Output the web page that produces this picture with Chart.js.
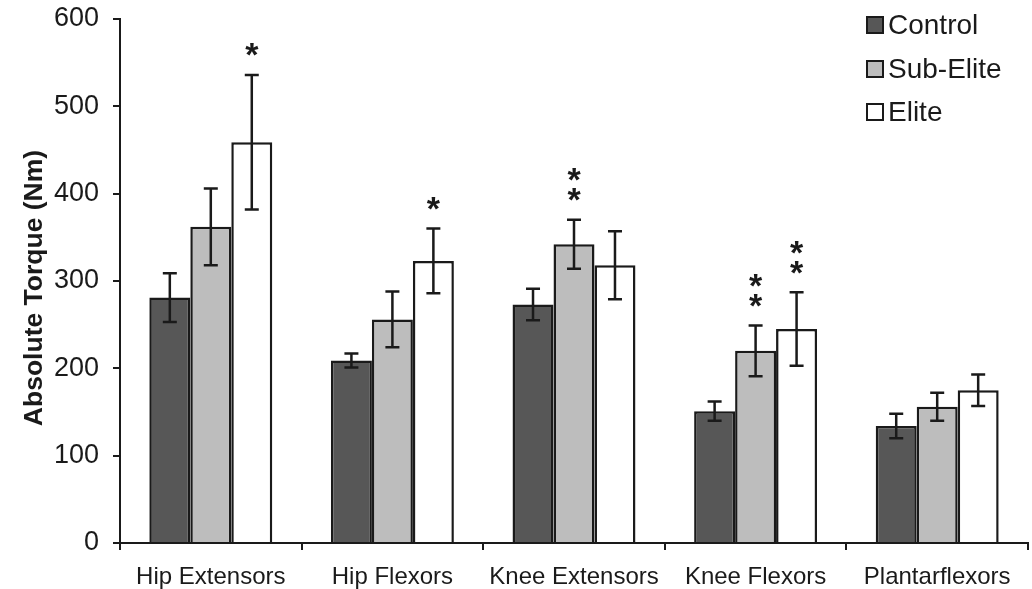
<!DOCTYPE html>
<html>
<head>
<meta charset="utf-8">
<title>Absolute Torque by Muscle Group</title>
<script src="https://cdn.jsdelivr.net/npm/chart.js@4.4.1/dist/chart.umd.min.js"></script>
<style>
  html, body { margin: 0; padding: 0; background: #ffffff; }
  #wrap { width: 1032px; height: 589px; }
</style>
</head>
<body>
<div id="wrap"><canvas id="chart" width="1032" height="589"></canvas></div>
<script>
// Muscle groups on the x axis
const categories = ['Hip Extensors', 'Hip Flexors', 'Knee Extensors', 'Knee Flexors', 'Plantarflexors'];

// Group means (Nm)
const controlMeans   = [281, 209, 273, 151, 134];
const subEliteMeans  = [362, 256, 342, 220, 156];
const eliteMeans     = [459, 323, 318, 245, 175];

// Standard deviations (Nm), drawn as symmetric error bars
const controlSD  = [28, 8, 18, 11, 14];
const subEliteSD = [44, 32, 28, 29, 16];
const eliteSD    = [77, 37, 39, 42, 18];

// Significance markers placed above each bar's error bar
const controlStars  = ['', '', '', '', ''];
const subEliteStars = ['', '', '**', '**', ''];
const eliteStars    = ['*', '*', '', '**', ''];

// Y axis ticks
const yTicks = [0, 100, 200, 300, 400, 500, 600];
const yTitle = 'Absolute Torque (Nm)';

const FONT = '"Liberation Sans", Arial, Helvetica, sans-serif';
const INK = '#1a1a1a';

const errorBarPlugin = {
  id: 'errorBars',
  afterDatasetsDraw(chart) {
    const ctx = chart.ctx;
    const y = chart.scales.y;
    ctx.save();
    chart.data.datasets.forEach((ds, di) => {
      const meta = chart.getDatasetMeta(di);
      meta.data.forEach((bar, i) => {
        const m = ds.data[i];
        const sd = ds.sd[i];
        const yTop = y.getPixelForValue(m + sd);
        const yBot = y.getPixelForValue(m - sd);
        const x = bar.x;
        const cap = 7;
        ctx.strokeStyle = INK;
        ctx.lineWidth = 2.5;
        ctx.beginPath();
        ctx.moveTo(x, yTop); ctx.lineTo(x, yBot);
        ctx.moveTo(x - cap, yTop); ctx.lineTo(x + cap, yTop);
        ctx.moveTo(x - cap, yBot); ctx.lineTo(x + cap, yBot);
        ctx.stroke();

        const stars = ds.stars[i];
        if (stars) {
          ctx.fillStyle = INK;
          ctx.font = 'bold 34px ' + FONT;
          ctx.textAlign = 'center';
          ctx.textBaseline = 'alphabetic';
          for (let k = 0; k < stars.length; k++) {
            const cy = yTop - 28 - k * 20;
            ctx.fillText('*', x, cy + 0.57 * 34);
          }
        }
      });
    });
    ctx.restore();
  }
};

// Rotated axis title, placed beside the y tick labels
const yTitlePlugin = {
  id: 'yTitle',
  afterDraw(chart) {
    const ctx = chart.ctx;
    ctx.save();
    ctx.translate(41.5, 288);
    ctx.rotate(-Math.PI / 2);
    ctx.fillStyle = INK;
    ctx.font = 'bold 26.5px ' + FONT;
    ctx.textAlign = 'center';
    ctx.textBaseline = 'alphabetic';
    ctx.fillText(yTitle, 0, 0);
    ctx.restore();
  }
};

const legendPlugin = {
  id: 'boxLegend',
  afterDraw(chart) {
    const ctx = chart.ctx;
    ctx.save();
    const x0 = 867, size = 16;
    const rows = [25, 69, 112];
    chart.data.datasets.forEach((ds, i) => {
      const cy = rows[i];
      ctx.fillStyle = ds.backgroundColor;
      ctx.fillRect(x0, cy - size / 2, size, size);
      ctx.strokeStyle = INK;
      ctx.lineWidth = 2;
      ctx.strokeRect(x0, cy - size / 2, size, size);
      ctx.fillStyle = INK;
      ctx.font = '28px ' + FONT;
      ctx.textAlign = 'left';
      ctx.textBaseline = 'middle';
      ctx.fillText(ds.label, x0 + 21, cy + 1);
    });
    ctx.restore();
  }
};

new Chart(document.getElementById('chart'), {
  type: 'bar',
  data: {
    labels: categories,
    datasets: [
      { label: 'Control',   data: controlMeans,  sd: controlSD,  stars: controlStars,
        backgroundColor: '#575757', borderColor: INK, borderWidth: 2.5 },
      { label: 'Sub-Elite', data: subEliteMeans, sd: subEliteSD, stars: subEliteStars,
        backgroundColor: '#bdbdbd', borderColor: INK, borderWidth: 2.5 },
      { label: 'Elite',     data: eliteMeans,    sd: eliteSD,    stars: eliteStars,
        backgroundColor: '#ffffff', borderColor: INK, borderWidth: 2.5 }
    ]
  },
  options: {
    responsive: false,
    animation: false,
    devicePixelRatio: 1,
    layout: { padding: { top: 19, right: 4, left: 0, bottom: 0 } },
    datasets: { bar: { categoryPercentage: 0.677, barPercentage: 1.0 } },
    plugins: {
      legend: { display: false },
      tooltip: { enabled: false }
    },
    scales: {
      x: {
        offset: true,
        grid: { offset: true, drawOnChartArea: false, drawTicks: true, tickLength: 7,
                color: INK, lineWidth: 2 },
        border: { display: true, color: INK, width: 2 },
        ticks: { color: INK, font: { family: FONT, size: 24 }, padding: 13, maxRotation: 0 },
        afterFit(scale) { scale.height = 46; }
      },
      y: {
        min: 0, max: 600,
        afterBuildTicks(scale) { scale.ticks = yTicks.map(v => ({ value: v })); },
        grid: { drawOnChartArea: false, drawTicks: true, tickLength: 7, color: INK, lineWidth: 2 },
        border: { display: true, color: INK, width: 2 },
        ticks: { color: INK, font: { family: FONT, size: 27 }, padding: 14 },
        afterFit(scale) {
          scale.width = 120;
          scale.paddingTop = 0;
          scale.paddingBottom = 0;
        }
      }
    }
  },
  plugins: [errorBarPlugin, yTitlePlugin, legendPlugin]
});
</script>
</body>
</html>
